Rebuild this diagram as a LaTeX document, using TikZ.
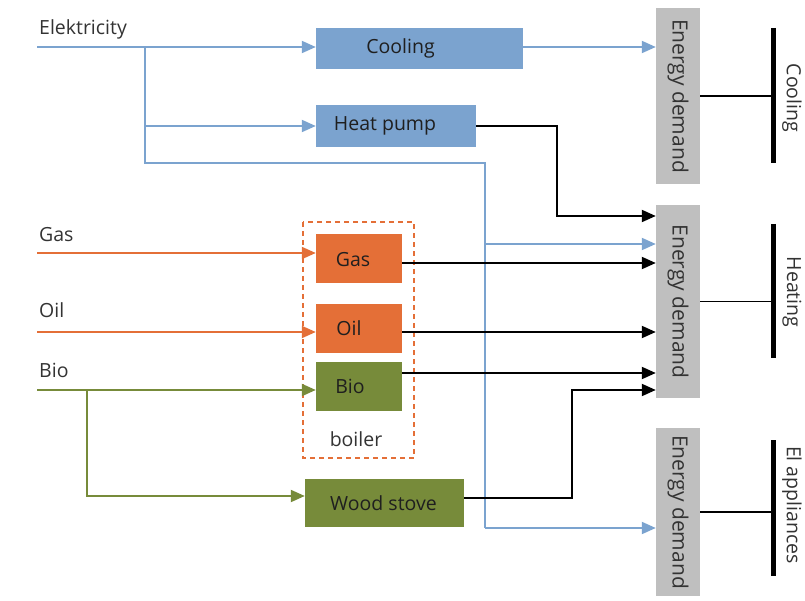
\documentclass[tikz,border=0pt]{standalone}
\usepackage{fontspec}
\setmainfont{Open Sans}
\usetikzlibrary{arrows.meta}
\definecolor{eblue}{HTML}{7BA3CF}
\definecolor{eorange}{HTML}{E46F37}
\definecolor{egreen}{HTML}{778B3A}
\definecolor{egray}{HTML}{BFBFBF}
\definecolor{etext}{HTML}{333333}
\tikzset{
  box/.style={draw=none, inner sep=0pt},
  edbox/.style={fill=egray, minimum width=44pt, inner sep=0pt, font=\fontsize{21}{24}\selectfont, text=etext},
  lbl/.style={font=\fontsize{19.5}{22}\selectfont, text=etext, inner sep=0pt},
  blbl/.style={font=\fontsize{19.5}{22}\selectfont, text=black!88, inner sep=0pt},
  tip/.style={-{Triangle[length=14pt,width=12pt]}},
  bline/.style={draw=eblue, line width=2pt, tip, eblue},
  oline/.style={draw=eorange, line width=2pt, tip, eorange},
  gline/.style={draw=egreen, line width=2pt, tip, egreen},
  kline/.style={draw=black, line width=2pt, tip},
  bar/.style={draw=black, line width=5pt},
}
\begin{document}
\begin{tikzpicture}[x=1pt,y=-1pt]
\useasboundingbox (0,0) rectangle (805,601);
% process boxes
\node[box, fill=eblue, minimum width=207pt, minimum height=41pt,
  label={[blbl,xshift=-19pt]center:Cooling}] (cool) at (419.5,48.5) {};
\node[box, fill=eblue, minimum width=160pt, minimum height=42pt,
  label={[blbl,xshift=-11pt]center:Heat pump}] (hp) at (396,126) {};
\node[box, fill=eorange, minimum width=86pt, minimum height=49pt,
  label={[blbl,xshift=-6pt,yshift=-1pt]center:Gas}] (gas) at (359,258.5) {};
\node[box, fill=eorange, minimum width=86pt, minimum height=49pt,
  label={[blbl,xshift=-10pt]center:Oil}] (oil) at (359,328.5) {};
\node[box, fill=egreen, minimum width=86pt, minimum height=49pt,
  label={[blbl,xshift=-9pt]center:Bio}] (bio) at (359,386.5) {};
\node[box, fill=egreen, minimum width=159pt, minimum height=48pt,
  label={[blbl,xshift=-1pt]center:Wood stove}] (wood) at (384.5,503) {};
% dashed boiler frame
\draw[eorange, line width=2pt, dash pattern=on 5pt off 4pt] (303,222) rectangle (414,458);
\node[lbl, anchor=base] (boiler) at (356,446) {boiler};
% energy demand boxes
\node[edbox, minimum height=176pt] (ed1) at (678,96) {\rotatebox{-90}{Energy demand}};
\node[edbox, minimum height=193pt] (ed2) at (678,301.5) {\rotatebox{-90}{Energy demand}};
\node[edbox, minimum height=168pt] (ed3) at (678,512) {\rotatebox{-90}{Energy demand}};
% bars
\coordinate (b1t) at (773,28); \coordinate (b1b) at (773,163);
\coordinate (b2t) at (773,224); \coordinate (b2b) at (773,358);
\coordinate (b3t) at (773,440); \coordinate (b3b) at (773,576);
\draw[bar] (b1t) -- (b1b);
\draw[bar] (b2t) -- (b2b);
\draw[bar] (b3t) -- (b3b);
\draw[line width=1.5pt] (ed1.east) -- (ed1.east -| b1t);
\draw[line width=1.5pt] (ed2.east) -- (ed2.east -| b2t);
\draw[line width=1.5pt] (ed3.east) -- (ed3.east -| b3t);
\node[lbl, rotate=-90] (lc) at (792,98) {Cooling};
\node[lbl, rotate=-90] (lh) at (792,292) {Heating};
\node[lbl, rotate=-90] (la) at (792,505) {El appliances};
% source labels
\node[lbl, anchor=base west] (elec) at (39,35) {Elektricity};
\node[lbl, anchor=base west] (gasl) at (39,242) {Gas};
\node[lbl, anchor=base west] (oill) at (39,317) {Oil};
\node[lbl, anchor=base west] (biol) at (39,377) {Bio};
% electricity network
\coordinate (e0) at (37,47);
\coordinate (e1) at (145,47);
\coordinate (e2) at (145,126);
\coordinate (e3) at (145,163);
\coordinate (e4) at (485,163);
\coordinate (e5) at (485,244);
\coordinate (e6) at (485,528);
\draw[bline] (e0) -- (e0 -| cool.west);
\draw[eblue, line width=2pt] (e1) -- (e3) -- (e4) -- (e6);
\draw[bline] (e2) -- (e2 -| hp.west);
\draw[bline] (e5) -- (e5 -| ed2.west);
\draw[bline] (e6) -- (e6 -| ed3.west);
\draw[bline] (cool.east |- e0) -- (e0 -| ed1.west);
% fuel inputs
\coordinate (g0) at (37,253);
\coordinate (o0) at (37,332);
\coordinate (bi0) at (37,390);
\coordinate (bi1) at (87,390);
\coordinate (bi2) at (87,496);
\draw[oline] (g0) -- (g0 -| gas.west);
\draw[oline] (o0) -- (o0 -| oil.west);
\draw[gline] (bi0) -- (bi0 -| bio.west);
\draw[gline] (bi1) -- (bi2) -- (bi2 -| wood.west);
% outputs to heating
\coordinate (h1) at (557,126);
\coordinate (h2) at (557,216);
\draw[kline] (hp.east) -- (h1) -- (h2) -- (h2 -| ed2.west);
\coordinate (gy) at (0,263);
\coordinate (oy) at (0,332);
\coordinate (by) at (0,373);
\draw[kline] (gas.east |- gy) -- (gy -| ed2.west);
\draw[kline] (oil.east |- oy) -- (oy -| ed2.west);
\draw[kline] (bio.east |- by) -- (by -| ed2.west);
\coordinate (w1) at (572,498);
\coordinate (w2) at (572,390);
\draw[kline] (wood.east |- w1) -- (w1) -- (w2) -- (w2 -| ed2.west);
\end{tikzpicture}
\end{document}
